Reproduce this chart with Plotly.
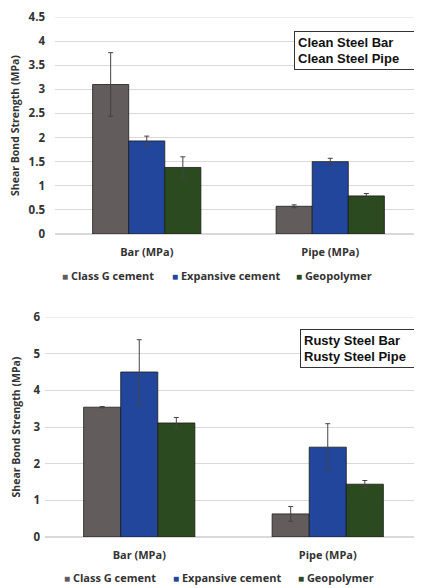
import plotly.graph_objects as go

# categories and series
categories = ['Bar (MPa)', 'Pipe (MPa)']
series_names = ['Class G cement', 'Expansive cement', 'Geopolymer']
colors = ['#625c5c', '#21469c', '#2c4a1f']

# clean steel (top panel)
clean_vals = [[3.10, 0.575], [1.93, 1.50], [1.38, 0.79]]
clean_err = [[0.66, 0.03], [0.10, 0.07], [0.22, 0.05]]

# rusty steel (bottom panel)
rusty_vals = [[3.54, 0.63], [4.50, 2.45], [3.11, 1.44]]
rusty_err = [[0.02, 0.20], [0.88, 0.64], [0.15, 0.10]]

FONT = 'Open Sans'
W, H = 414, 580   # page has an 8px body margin


def px(x):
    return (x - 8) / W


def py(y):
    return 1 - (y - 8) / H


fig = go.Figure()

for xa, ya, vals, errs in [('x', 'y', clean_vals, clean_err),
                           ('x2', 'y2', rusty_vals, rusty_err)]:
    for i, name in enumerate(series_names):
        fig.add_trace(go.Bar(
            x=categories, y=vals[i], name=name, showlegend=False,
            marker=dict(color=colors[i], line=dict(color='#1a1a1a', width=0.8)),
            error_y=dict(type='data', array=errs[i], color='#444444', thickness=1, width=2.5),
            xaxis=xa, yaxis=ya))

tick_font = dict(family=FONT, size=11, color='#333333', weight='bold')
ytick_font = dict(family=FONT, size=11.5, color='#333333', weight='bold')
title_font = dict(family=FONT, size=10.5, color='#333333', weight='bold')
leg_font = dict(family=FONT, size=11, color='#333333', weight='bold')

fig.update_layout(
    width=W, height=H,
    margin=dict(l=0, r=0, t=0, b=0, autoexpand=False),
    paper_bgcolor='white', plot_bgcolor='white',
    barmode='group', bargap=0.41, bargroupgap=0,
    font=dict(family=FONT, color='#333333'),
    showlegend=False,
    xaxis=dict(domain=[px(55), px(422)], anchor='y', showline=False,
               tickfont=tick_font, ticks='', ticklabelstandoff=10),
    yaxis=dict(domain=[py(234), py(17)], anchor='x', range=[0, 4.5], dtick=0.5,
               showgrid=True, gridcolor='#d9d9d9', gridwidth=1,
               zeroline=True, zerolinecolor='#d9d9d9',
               tickfont=ytick_font, ticklabelstandoff=9, ticklabeloverflow='allow',
               title=dict(text='Shear Bond Strength (MPa)', font=title_font, standoff=6)),
    xaxis2=dict(domain=[px(45), px(422)], anchor='y2', showline=False,
                tickfont=tick_font, ticks='', ticklabelstandoff=10),
    yaxis2=dict(domain=[py(537), py(317)], anchor='x2', range=[0, 6], dtick=1,
                showgrid=True, gridcolor='#d9d9d9', gridwidth=1,
                zeroline=True, zerolinecolor='#d9d9d9',
                tickfont=ytick_font, ticklabelstandoff=4, ticklabeloverflow='allow',
                title=dict(text='Shear Bond Strength (MPa)', font=title_font, standoff=10)),
)

# top gridlines on the plot edge
fig.add_shape(type='line', xref='x domain', yref='y', x0=0, x1=1, y0=4.5, y1=4.5,
              line=dict(color='#d9d9d9', width=1), layer='below')
fig.add_shape(type='line', xref='x2 domain', yref='y2', x0=0, x1=1, y0=6, y1=6,
              line=dict(color='#d9d9d9', width=1), layer='below')

# legend rows (small squares right next to the text)
legend_x = [[60, 170, 294], [62, 171, 296]]
legend_y = [275, 577]
for row in range(2):
    for i, name in enumerate(series_names):
        fig.add_annotation(
            xref='paper', yref='paper', x=px(legend_x[row][i]), y=py(legend_y[row]),
            xanchor='left', yanchor='middle', showarrow=False,
            text=f'<span style="color:{colors[i]};font-size:10px">■</span> {name}',
            font=leg_font)

box_font = dict(family='Liberation Sans', size=13, color='#111111', weight='bold')
fig.add_annotation(xref='paper', yref='paper', x=px(294), y=py(31),
                   xanchor='left', yanchor='top', align='left', showarrow=False,
                   width=114, height=31,
                   text='Clean Steel Bar<br>Clean Steel Pipe', font=box_font,
                   bordercolor='#333333', borderwidth=1, borderpad=3, bgcolor='white')
fig.add_annotation(xref='paper', yref='paper', x=px(300), y=py(329),
                   xanchor='left', yanchor='top', align='left', showarrow=False,
                   width=114, height=31,
                   text='Rusty Steel Bar<br>Rusty Steel Pipe', font=box_font,
                   bordercolor='#333333', borderwidth=1, borderpad=3, bgcolor='white')

fig.write_html('out.html')
